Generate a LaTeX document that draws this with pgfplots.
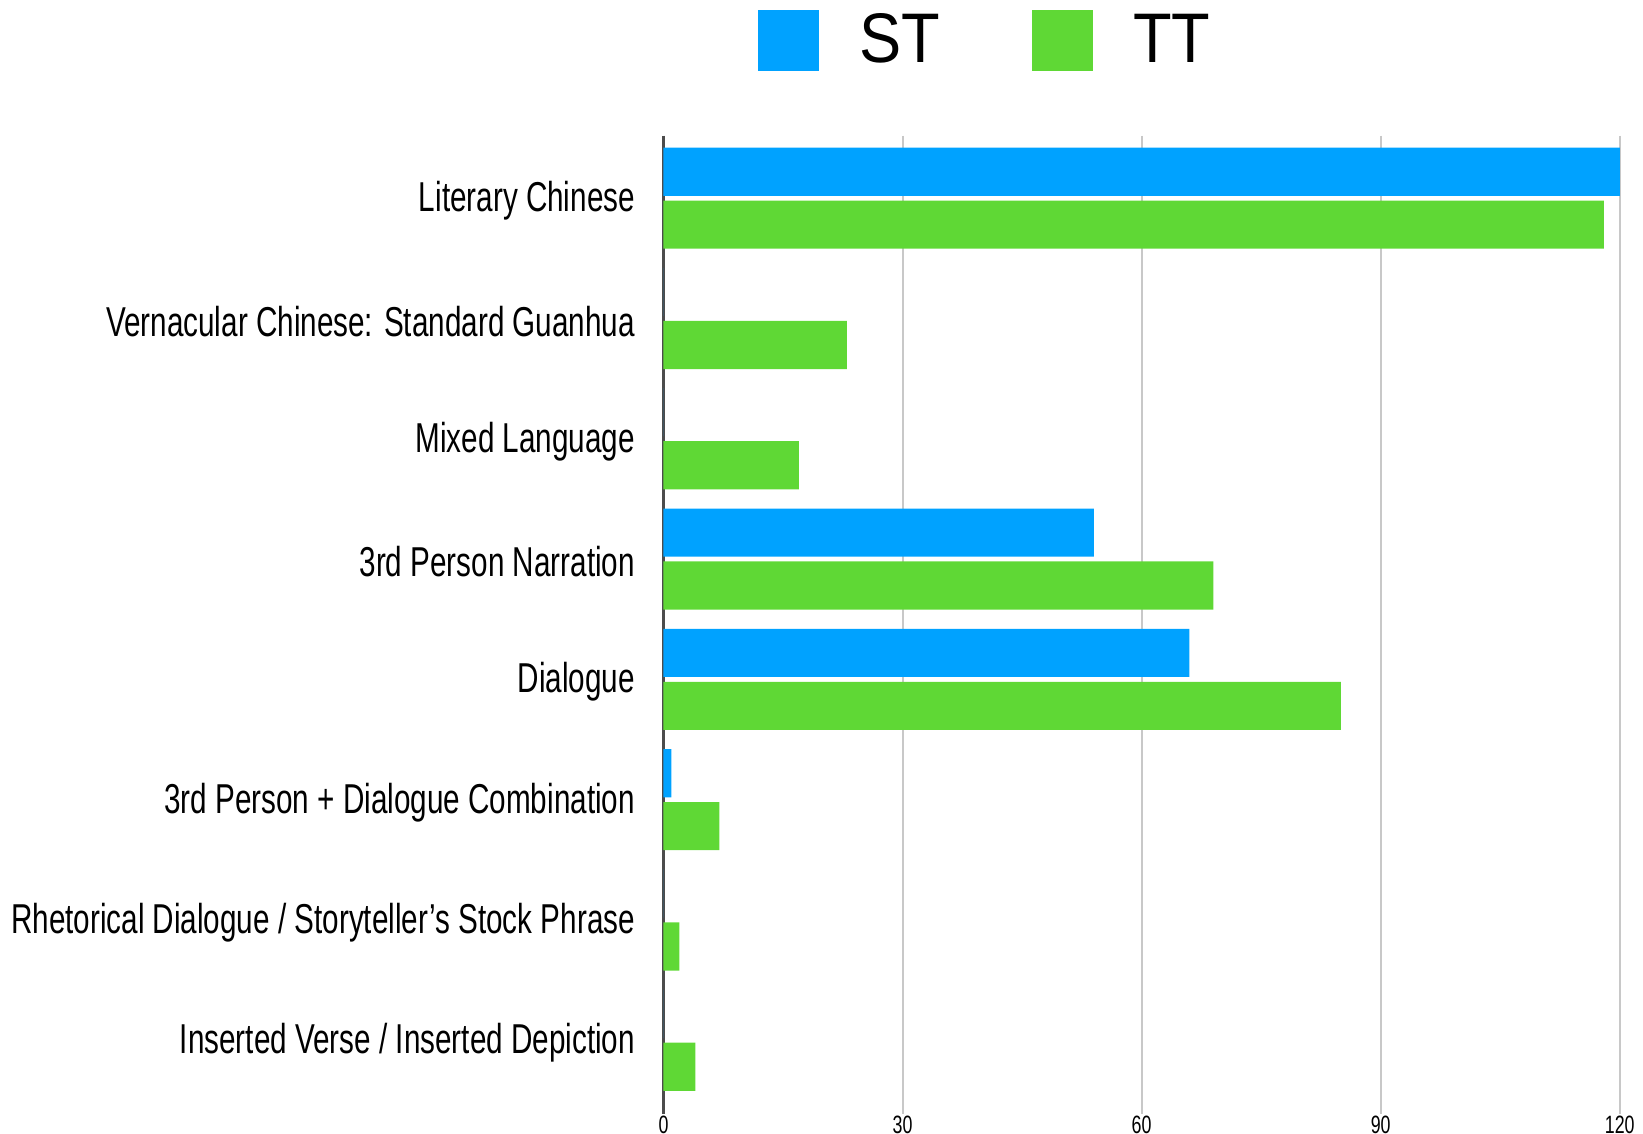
\documentclass[border=0pt]{standalone}
\usepackage{pgfplots}
\pgfplotsset{compat=1.18}
\usepackage{fontspec}
\setmainfont{Liberation Sans}
\newfontfamily\narrow[FakeStretch=0.71]{Liberation Sans}
\newfontfamily\legfont[FakeStretch=0.9]{Liberation Sans}
\definecolor{stblue}{HTML}{00A2FF}
\definecolor{ttgreen}{HTML}{5FD835}
\definecolor{gridgray}{HTML}{C8C8C8}
\begin{document}
\begin{tikzpicture}
\begin{axis}[
  width=286.1pt, height=292.8pt, scale only axis,
  xmin=0, xmax=120,
  ymin=-0.515, ymax=7.62,
  y dir=reverse,
  xbar, bar width=0.40,
  axis x line*=bottom, axis y line*=left,
  x axis line style={draw=none},
  y axis line style={draw=black!70, line width=1pt},
  xtick={0,30,60,90,120},
  xmajorgrids, grid style={gridgray, line width=0.6pt},
  tick align=outside, major tick length=0pt,
  xtick style={draw=none},
  ytick={0,...,7},
  yticklabels={Literary Chinese, Vernacular Chinese: Standard Guanhua, Mixed Language, 3rd Person Narration, Dialogue, 3rd Person + Dialogue Combination, Rhetorical Dialogue / Storyteller’s Stock Phrase, Inserted Verse / Inserted Depiction},
  ytick style={draw=none},
  yticklabel style={font=\narrow\fontsize{12.5}{14}\selectfont, xshift=-5pt, yshift=-1pt},
  xticklabel style={font=\narrow\fontsize{7.5}{8}\selectfont, inner ysep=0pt, inner xsep=2.5pt, yshift=-0.3pt},
  /pgf/number format/assume math mode=true,
  legend style={draw=none, fill=none, at={(rel axis cs:0.339,1.0973)}, anchor=center,
    font=\legfont\fontsize{21}{21}\selectfont,
    /tikz/every odd column/.append style={column sep=10pt},
    /tikz/every even column/.append style={column sep=25.5pt}},
  legend columns=2,
]
\addplot[draw=none, fill=stblue, bar shift=-0.215,
  legend image code/.code={\fill[stblue] (0pt,-9.1pt) rectangle (18.2pt,9.1pt);}]
  coordinates {(120,0) (0,1) (0,2) (54,3) (66,4) (1,5) (0,6) (0,7)};
\addplot[draw=none, fill=ttgreen, bar shift=0.225,
  legend image code/.code={\fill[ttgreen] (0pt,-9.1pt) rectangle (18.2pt,9.1pt);}]
  coordinates {(118,0) (23,1) (17,2) (69,3) (85,4) (7,5) (2,6) (4,7)};
\legend{ST, TT}
\end{axis}
\end{tikzpicture}
\end{document}
